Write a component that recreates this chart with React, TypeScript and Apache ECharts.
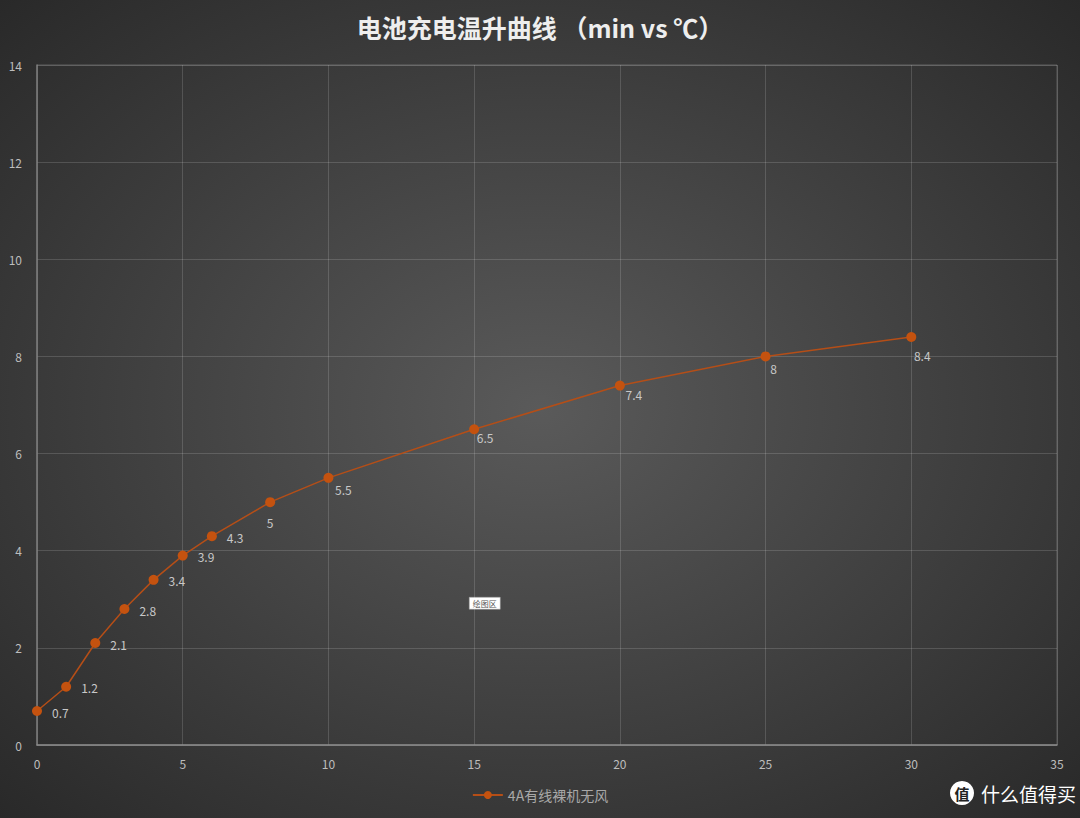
import React, { useEffect, useRef } from "react";
import * as echarts from "echarts";

const titleText = "电池充电温升曲线 （min vs ℃）";
const seriesName = "4A有线裸机无风";
const minutes = [0, 1, 2, 3, 4, 5, 6, 8, 10, 15, 20, 25, 30];
const temps = [0.7, 1.2, 2.1, 2.8, 3.4, 3.9, 4.3, 5, 5.5, 6.5, 7.4, 8, 8.4];
const xTicks = { min: 0, max: 35, interval: 5 };
const yTicks = { min: 0, max: 14, interval: 2 };

// label placement style (Excel auto-placement imitation), index-aligned with the data
const belowLabelOffsets: Record<number, [number, number]> = {
  7: [0, 4],
  8: [15, -4],
  9: [11, -8],
  10: [14, -7],
  11: [8, -4],
  12: [11, 2],
};

export default function App() {
  const ref = useRef<HTMLDivElement>(null);
  useEffect(() => {
    document.body.style.margin = "0";
    const chart = echarts.init(ref.current!, null, { renderer: "svg" });
    const font = "'Noto Sans CJK SC', 'Noto Sans', sans-serif";
    const data = minutes.map((m, i) => {
      const off = belowLabelOffsets[i];
      return {
        value: [m, temps[i]],
        label: off
          ? { position: "bottom", distance: 5, offset: off }
          : { position: "right", distance: 9, offset: [1, 1] },
      };
    });
    chart.setOption({
      animation: false,
      backgroundColor: {
        type: "radial",
        x: 0.5,
        y: 0.5,
        r: 0.75,
        colorStops: [
          { offset: 0, color: "#5a5a5a" },
          { offset: 1, color: "#262626" },
        ],
      },
      title: {
        text: titleText,
        left: "center",
        top: 9,
        textStyle: { color: "#eeeeee", fontSize: 25, fontWeight: "bold", fontFamily: font },
      },
      grid: {
        left: 37,
        right: 23,
        top: 65,
        bottom: 73,
        show: true,
        borderColor: "rgba(255,255,255,0.22)",
        borderWidth: 1,
        backgroundColor: "transparent",
      },
      legend: {
        bottom: 11,
        left: "center",
        itemWidth: 30,
        itemHeight: 10,
        textStyle: { color: "#a8a8a8", fontSize: 14, fontFamily: font },
        data: [seriesName],
      },
      xAxis: {
        type: "value",
        min: xTicks.min,
        max: xTicks.max,
        interval: xTicks.interval,
        axisLine: { show: true, lineStyle: { color: "#8a8a8a", width: 1.5 } },
        axisTick: { show: false },
        axisLabel: { color: "#bdbdbd", fontSize: 12, margin: 12, fontFamily: font },
        splitLine: { show: true, lineStyle: { color: "rgba(255,255,255,0.15)" } },
      },
      yAxis: {
        type: "value",
        min: yTicks.min,
        max: yTicks.max,
        interval: yTicks.interval,
        axisLine: { show: true, lineStyle: { color: "#7a7a7a", width: 1.5 } },
        axisTick: { show: false },
        axisLabel: { color: "#bdbdbd", fontSize: 12, margin: 15, fontFamily: font },
        splitLine: { show: true, lineStyle: { color: "rgba(255,255,255,0.15)" } },
      },
      series: [
        {
          name: seriesName,
          type: "line",
          data,
          symbol: "circle",
          symbolSize: 10,
          itemStyle: { color: "#c4520f" },
          lineStyle: { color: "#b54e17", width: 1.5 },
          label: {
            show: true,
            color: "#c8c8c8",
            fontSize: 12,
            fontFamily: font,
            formatter: (p: any) => String(p.value[1]),
          },
        },
      ],
      graphic: [
        {
          type: "group",
          left: 469,
          top: 597,
          children: [
            { type: "rect", shape: { x: 0, y: 0, width: 31, height: 12 }, style: { fill: "#ffffff", stroke: "#999", lineWidth: 0.5 } },
            { type: "text", x: 15.5, y: 6, style: { text: "绘图区", fill: "#555", fontSize: 8, align: "center", verticalAlign: "middle", fontFamily: font } },
          ],
        },
        {
          type: "group",
          left: 950,
          top: 781,
          children: [
            { type: "circle", shape: { cx: 12, cy: 13, r: 12 }, style: { fill: "#ffffff" } },
            { type: "text", x: 12, y: 13, style: { text: "值", fill: "#222", fontSize: 15, fontWeight: "bold", align: "center", verticalAlign: "middle", fontFamily: font } },
            { type: "text", x: 31, y: 13, style: { text: "什么值得买", fill: "#ffffff", fontSize: 19, align: "left", verticalAlign: "middle", fontFamily: font } },
          ],
        },
      ],
    });
    return () => chart.dispose();
  }, []);
  return <div ref={ref} style={{ width: 1080, height: 818 }} />;
}
